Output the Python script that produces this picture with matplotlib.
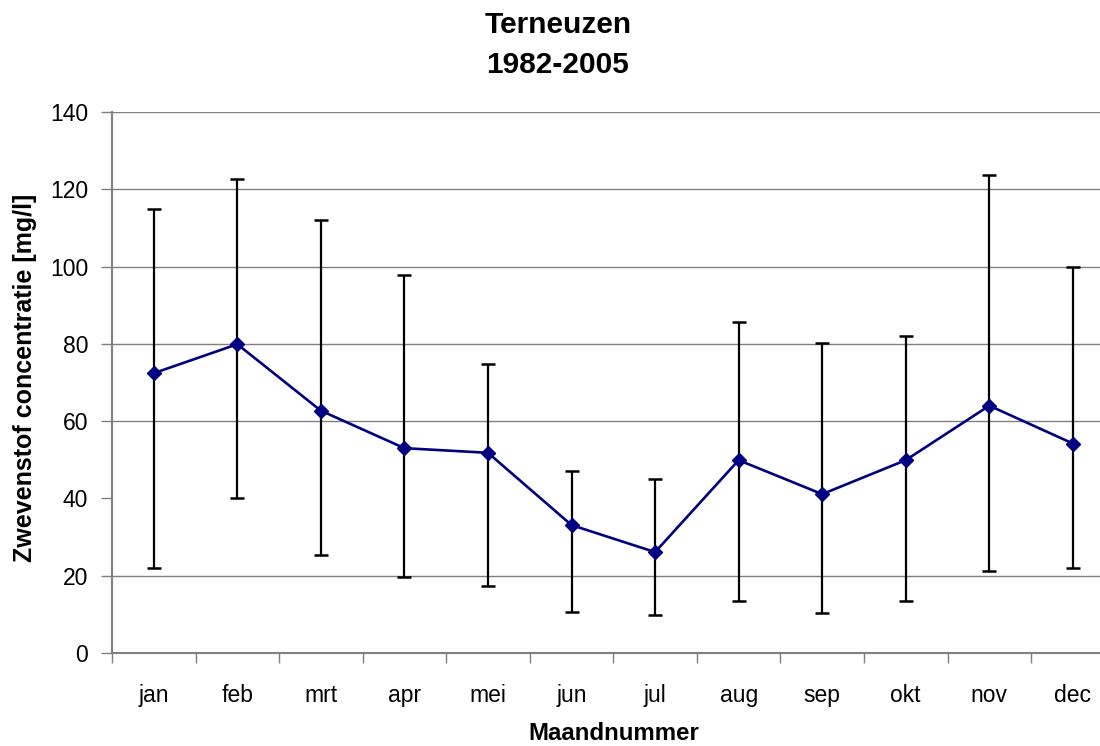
import numpy as np
import matplotlib
matplotlib.use('Agg')
import matplotlib.pyplot as plt

plt.rcParams['font.family'] = ['Liberation Sans', 'DejaVu Sans']

# Monthly suspended matter, Terneuzen 1982-2005
months = ['jan', 'feb', 'mrt', 'apr', 'mei', 'jun', 'jul', 'aug', 'sep', 'okt', 'nov', 'dec']
mean_conc = [72.4, 79.9, 62.7, 53.0, 51.8, 33.1, 26.1, 49.9, 41.1, 49.9, 64.0, 54.2]
upper_conc = [114.9, 122.7, 112.1, 97.7, 74.9, 47.2, 45.0, 85.7, 80.2, 81.9, 123.8, 100.0]
lower_conc = [21.9, 40.2, 25.4, 19.6, 17.3, 10.5, 9.7, 13.4, 10.3, 13.4, 21.1, 21.9]
y_ticks = [0, 20, 40, 60, 80, 100, 120, 140]
grid_levels = [20, 60, 80, 100, 120, 140]  # no line at 40 in the original

mean_arr = np.array(mean_conc)
yerr = [mean_arr - np.array(lower_conc), np.array(upper_conc) - mean_arr]
x = np.arange(len(months))

fig = plt.figure(figsize=(11, 7.46), dpi=100)
ax = fig.add_axes([0.1018, 0.1247, 0.9115, 0.7252])

for lvl in grid_levels:
    ax.axhline(lvl, color='#808080', lw=1.0, zorder=0)

ax.errorbar(x, mean_conc, yerr=yerr, fmt='none', ecolor='black',
            elinewidth=1.6, capsize=5.3, capthick=1.8, zorder=2)
ax.plot(x, mean_conc, color='#000080', lw=1.9, marker='D', markersize=6.8,
        markerfacecolor='#000080', markeredgecolor='#000080', zorder=3)

ax.set_xlim(-0.5, len(months) - 0.5)
ax.set_ylim(0, 140)
ax.set_yticks(y_ticks)
ax.tick_params(axis='y', labelsize=16.5, length=8, width=1, color='#808080', pad=9)

# category boundaries as ticks, month names in between
ax.set_xticks(np.arange(-0.5, len(months), 1.0))
ax.set_xticklabels([])
ax.set_xticks(x, minor=True)
ax.set_xticklabels(months, minor=True)
ax.tick_params(axis='x', which='major', length=7, width=1, color='#808080')
ax.tick_params(axis='x', which='minor', length=0, labelsize=16.5, pad=22)

for side in ['top', 'right']:
    ax.spines[side].set_visible(False)
for side in ['left', 'bottom']:
    ax.spines[side].set_color('#808080')
    ax.spines[side].set_linewidth(1.5)

fig.text(558 / 1100, 1 - 25 / 746, 'Terneuzen', ha='center', va='center',
         fontsize=21.5, fontweight='bold')
fig.text(558 / 1100, 1 - 65 / 746, '1982-2005', ha='center', va='center',
         fontsize=21.5, fontweight='bold')
fig.text(25 / 1100, 1 - 378 / 746, 'Zwevenstof concentratie [mg/l]', rotation=90,
         ha='center', va='center', fontsize=18, fontweight='bold')
fig.text(614 / 1100, 1 - 734 / 746, 'Maandnummer', ha='center', va='center',
         fontsize=17.3, fontweight='bold')

plt.savefig('out.png', dpi=100, facecolor='white')
